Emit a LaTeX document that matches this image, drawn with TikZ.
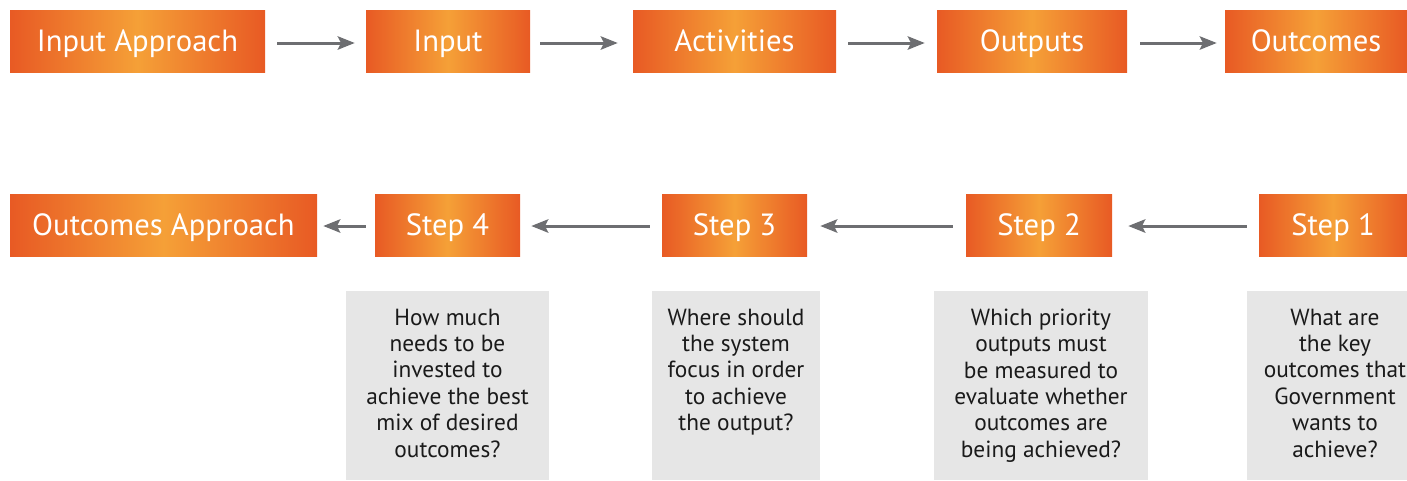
\documentclass[tikz,border=0pt]{standalone}
\usepackage{fontspec}
\setmainfont{PT Sans}
\usetikzlibrary{arrows.meta}
\definecolor{oedge}{HTML}{E85A24}
\definecolor{omid}{HTML}{F5A037}
\definecolor{gbox}{HTML}{E6E6E6}
\definecolor{garrow}{HTML}{6D6E71}
\definecolor{gtext}{HTML}{1A1A1A}
\tikzset{
  obox/.style={rectangle, inner sep=0pt, minimum height=46.5pt, text height=18pt, text depth=3pt, left color=oedge, right color=oedge, middle color=omid, text=white, font=\fontsize{23}{26}\selectfont},
  gpanel/.style={rectangle, inner sep=0pt, fill=gbox, minimum height=141.75pt},
  gtxt/.style={anchor=north, align=center, inner sep=0pt, text=gtext, font=\fontsize{17.5}{19.8}\selectfont},
  flow/.style={draw=garrow, line width=2.25pt, -{Stealth[length=12.75pt, width=10pt, inset=2.5pt]}}
}
\begin{document}
\begin{tikzpicture}[x=0.75pt, y=-0.75pt]
\useasboundingbox (0,0) rectangle (1407,480);
% top row
\node[obox, minimum width=191.25pt] (ia) at (137.5,41) {Input Approach};
\node[obox, minimum width=123pt] (in) at (448,41) {Input};
\node[obox, minimum width=152.25pt] (ac) at (734.5,41) {Activities};
\node[obox, minimum width=142.5pt] (op) at (1032,41) {Outputs};
\node[obox, minimum width=136.5pt] (oc) at (1316,41) {Outcomes};
\draw[flow, shorten <=9pt, shorten >=8.25pt] ([yshift=-1.5pt]ia.east) -- ([yshift=-1.5pt]in.west);
\draw[flow, shorten <=7.5pt, shorten >=11.25pt] ([yshift=-1.5pt]in.east) -- ([yshift=-1.5pt]ac.west);
\draw[flow, shorten <=9pt, shorten >=9pt] ([yshift=-1.5pt]ac.east) -- ([yshift=-1.5pt]op.west);
\draw[flow, shorten <=9.75pt, shorten >=6pt] ([yshift=-1.5pt]op.east) -- ([yshift=-1.5pt]oc.west);
% bottom row
\node[obox, minimum width=230.25pt] (oa) at (163.5,225) {Outcomes Approach};
\node[obox, minimum width=108.75pt] (s4) at (447.5,225) {Step 4};
\node[obox, minimum width=108.75pt] (s3) at (734.5,225) {Step 3};
\node[obox, minimum width=109.5pt] (s2) at (1039,225) {Step 2};
\node[obox, minimum width=111pt] (s1) at (1333,225) {Step 1};
\draw[flow, shorten <=9pt, shorten >=12pt] ([yshift=-0.75pt]s1.west) -- ([yshift=-0.75pt]s2.east);
\draw[flow, shorten <=9.75pt, shorten >=9.75pt] ([yshift=-0.75pt]s2.west) -- ([yshift=-0.75pt]s3.east);
\draw[flow, shorten <=9pt, shorten >=8.25pt] ([yshift=-0.75pt]s3.west) -- ([yshift=-0.75pt]s4.east);
\draw[flow, shorten <=6.75pt, shorten >=4.5pt] ([yshift=-0.75pt]s4.west) -- ([yshift=-0.75pt]oa.east);
% grey panels
\node[gpanel, minimum width=152.25pt] (g4) at (447.5,385.5) {};
\node[gpanel, minimum width=126pt] (g3) at (736,385.5) {};
\node[gpanel, minimum width=160.5pt] (g2) at (1041,385.5) {};
\node[gpanel, minimum width=120pt] (g1) at (1327,385.5) {};
\node[gtxt] (t4) at (447.5,308.5) {How much\\needs to be\\invested to\\achieve the best\\mix of desired\\outcomes?};
\node[gtxt] (t3) at (736,308.5) {Where should\\the system\\focus in order\\to achieve\\the output?};
\node[gtxt] (t2) at (1041,308.5) {Which priority\\outputs must\\be measured to\\evaluate whether\\outcomes are\\being achieved?};
\node[gtxt] (t1) at (1335,308.5) {What are\\the key\\outcomes that\\Government\\wants to\\achieve?};
\end{tikzpicture}
\end{document}
